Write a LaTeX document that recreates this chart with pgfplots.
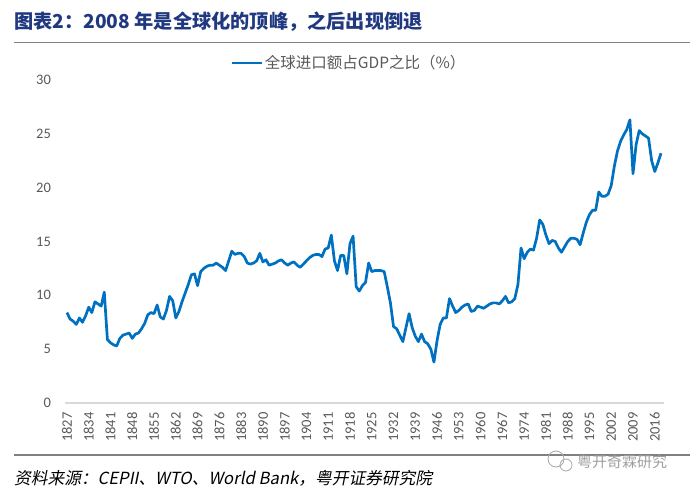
\documentclass[border=0pt]{standalone}
\usepackage{fontspec}
\usepackage{pgfplots}
\usepackage{pgfplotstable}
\pgfplotsset{compat=1.18}
\setmainfont{Carlito}
\newfontfamily\cjk{Noto Sans CJK SC}
\newfontfamily\cjkit[FakeSlant=0.2]{Noto Sans CJK SC}
\definecolor{titleblue}{RGB}{31,56,128}
\definecolor{lineblue}{RGB}{0,112,192}
\definecolor{tickgray}{RGB}{89,89,89}
\definecolor{rulegray}{RGB}{128,128,128}
\definecolor{axisgray}{RGB}{217,217,217}

\pgfplotstableread{
year val
1827 8.4
1828 7.8
1829 7.6
1830 7.3
1831 7.9
1832 7.5
1833 8.1
1834 8.9
1835 8.4
1836 9.4
1837 9.2
1838 9.0
1839 10.3
1840 5.9
1841 5.6
1842 5.4
1843 5.3
1844 6.0
1845 6.3
1846 6.4
1847 6.5
1848 6.0
1849 6.4
1850 6.5
1851 6.9
1852 7.4
1853 8.2
1854 8.4
1855 8.3
1856 9.1
1857 8.0
1858 7.8
1859 8.6
1860 9.9
1861 9.5
1862 7.9
1863 8.5
1864 9.4
1865 10.2
1866 11.0
1867 11.9
1868 12.0
1869 10.9
1870 12.2
1871 12.5
1872 12.7
1873 12.8
1874 12.8
1875 13.0
1876 12.8
1877 12.6
1878 12.3
1879 13.2
1880 14.1
1881 13.8
1882 13.9
1883 13.9
1884 13.6
1885 13.0
1886 12.9
1887 13.0
1888 13.2
1889 13.9
1890 13.1
1891 13.3
1892 12.8
1893 12.9
1894 13.0
1895 13.2
1896 13.3
1897 13.0
1898 12.8
1899 13.0
1900 13.1
1901 12.8
1902 12.6
1903 12.9
1904 13.2
1905 13.5
1906 13.7
1907 13.8
1908 13.8
1909 13.6
1910 14.3
1911 14.4
1912 15.6
1913 13.2
1914 12.3
1915 13.7
1916 13.7
1917 12.0
1918 14.8
1919 15.5
1920 10.8
1921 10.4
1922 10.9
1923 11.2
1924 13.0
1925 12.2
1926 12.3
1927 12.3
1928 12.3
1929 12.2
1930 10.8
1931 9.3
1932 7.1
1933 6.9
1934 6.3
1935 5.7
1936 7.0
1937 8.3
1938 7.0
1939 6.2
1940 5.7
1941 6.4
1942 5.7
1943 5.5
1944 5.0
1945 3.8
1946 5.8
1947 7.3
1948 7.9
1949 7.9
1950 9.7
1951 9.0
1952 8.4
1953 8.6
1954 8.9
1955 9.1
1956 9.2
1957 8.5
1958 8.6
1959 9.0
1960 8.9
1961 8.8
1962 9.0
1963 9.2
1964 9.3
1965 9.3
1966 9.2
1967 9.5
1968 9.9
1969 9.3
1970 9.4
1971 9.7
1972 11.0
1973 14.4
1974 13.4
1975 14.0
1976 14.3
1977 14.2
1978 15.3
1979 17.0
1980 16.6
1981 15.6
1982 14.8
1983 15.1
1984 15.0
1985 14.4
1986 14.0
1987 14.5
1988 15.0
1989 15.3
1990 15.3
1991 15.2
1992 14.7
1993 15.8
1994 16.8
1995 17.5
1996 17.9
1997 17.9
1998 19.6
1999 19.2
2000 19.2
2001 19.4
2002 20.2
2003 22.0
2004 23.4
2005 24.3
2006 24.9
2007 25.4
2008 26.3
2009 21.3
2010 24.0
2011 25.3
2012 25.0
2013 24.8
2014 24.6
2015 22.5
2016 21.5
2017 22.3
2018 23.2
}\importdata

\begin{document}
\begin{tikzpicture}
\path[use as bounding box] (0pt,0pt) rectangle (700pt,496pt);
% title
\node[anchor=west, inner sep=0, text=titleblue, font=\cjk\bfseries\fontsize{19.2}{19.2}\selectfont] at (14pt,474pt) {图表2：2008 年是全球化的顶峰，之后出现倒退};
\draw[rulegray, line width=1.3pt] (14pt,453.5pt) -- (690pt,453.5pt);

\begin{axis}[
  at={(65.4pt,93pt)}, anchor=south west,
  scale only axis, width=598.7pt, height=323pt,
  xmin=1826.5, xmax=2019, ymin=0, ymax=30,
  axis x line*=bottom, axis y line*=left,
  x axis line style={draw=axisgray, line width=1.3pt},
  y axis line style={draw=none},
  major tick length=0pt,
  xtick={1827,1834,...,2016},
  ytick={0,5,...,30},
  /pgf/number format/assume math mode=true,
  /pgf/number format/set thousands separator={},
  tick label style={text=tickgray, font=\fontsize{14.5}{14.5}\selectfont},
  x tick label style={rotate=90, anchor=east},
  xticklabel style={xshift=-6pt},
  yticklabel style={xshift=-11pt},
  clip=false,
  legend style={at={(axis description cs:0.275,1.053)}, anchor=west, draw=none, fill=none,
    font=\cjk\fontsize{15.5}{15.5}\selectfont, text=tickgray, inner sep=0pt},
  legend image code/.code={\draw[#1] (0pt,0pt) -- (30pt,0pt);},
]
\addplot[lineblue, line width=2.7pt, line join=round] table[x=year, y=val] {\importdata};
\addlegendentry{全球进口额占GDP之比（\%）}
\end{axis}

% bottom rule and source
\draw[rulegray, line width=1.3pt] (14pt,41pt) -- (690pt,41pt);
\node[anchor=west, inner sep=0, text=black, font=\cjkit\fontsize{16.7}{16.7}\selectfont] at (14pt,18pt) {资料来源：CEPII、WTO、World Bank，粤开证券研究院};
% watermark
\draw[gray!70, line width=0.8pt] (556pt,37pt) circle (8pt);
\draw[gray!70, line width=0.8pt] (566pt,31pt) circle (6pt);
\node[anchor=west, inner sep=0, text=gray!75, font=\cjk\fontsize{15}{15}\selectfont] at (577pt,34pt) {粤开奇霖研究};
\end{tikzpicture}
\end{document}
